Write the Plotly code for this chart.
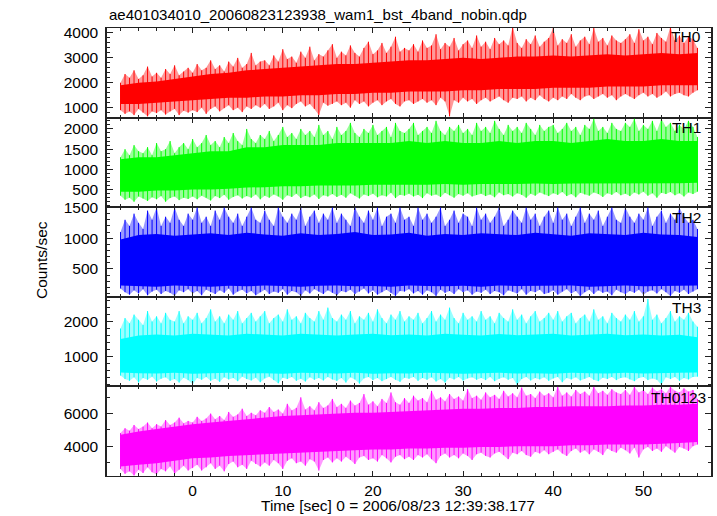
import plotly.graph_objects as go
from plotly.subplots import make_subplots

# ---------------- data ----------------
# sample times: 0.5 s grid for the spike extremes, 2 s grid for the dense core
t_fine = [-8 + 0.5 * i for i in range(129)]
t_coarse = list(range(-8, 57, 2))

th0_ext_hi = [2000, 2350, 2200, 2500, 2150, 2300, 2650, 2250, 2400, 2200, 2550, 2350, 2700, 2300, 2450, 2600,
              2400, 2750, 2500, 2600, 2900, 2550, 2700, 2450, 2850, 2650, 3000, 2600, 2750, 3200, 2700, 2850,
              2900, 2700, 3100, 2850, 3350, 2950, 3050, 2800, 3250, 3000, 3450, 2900, 3150, 3050, 3300, 3550,
              3000, 3250, 3100, 3500, 3200, 3050, 3400, 3650, 3150, 3300, 3600, 3200, 3450, 3850, 3250, 3400,
              3300, 3550, 3250, 3700, 3400, 3500, 3950, 3350, 3600, 3450, 3800, 3300, 3550, 3700, 3400, 3900,
              3450, 3650, 3350, 3800, 3550, 3700, 3500, 4250, 3600, 3400, 3750, 3550, 3900, 3450, 3650, 3800,
              4200, 3500, 3750, 3600, 3950, 3450, 3700, 3850, 3550, 4200, 3650, 3800, 3500, 3900, 3700, 3600,
              3750, 3950, 3600, 4150, 3700, 3850, 3550, 4000, 3800, 3650, 4250, 3700, 3900, 3600, 3850, 3750,
              3400]
th0_ext_lo = [900, 750, 850, 700, 950, 800, 650, 850, 780, 900, 720, 850, 950, 700, 880, 800,
              900, 820, 1000, 750, 950, 1050, 850, 980, 1100, 900, 1000, 820, 1050, 950, 1100, 1000,
              1150, 950, 1050, 1200, 900, 1100, 980, 1150, 1250, 1050, 1150, 950, 700, 1200, 1080, 1150,
              1250, 1100, 1200, 1000, 1300, 1150, 1250, 1050, 1200, 1300, 1100, 1250, 1350, 1150, 1050, 1250,
              1300, 1150, 1250, 1350, 1200, 1300, 1100, 1400, 1250, 650, 1300, 1200, 1400, 1250, 1350, 1150,
              1300, 1400, 1250, 1350, 1450, 1300, 1200, 1400, 1350, 1450, 1250, 1400, 1300, 1500, 1350, 1250,
              1400, 1300, 1450, 1350, 1550, 1400, 1300, 1450, 1500, 1350, 1450, 1550, 1400, 1500, 1300, 1450,
              1550, 1450, 1350, 1500, 1600, 1450, 1550, 1400, 1500, 1650, 1450, 1550, 1600, 1500, 1450, 1600,
              1700]
th0_core_hi = [1900, 2000, 2050, 2150, 2250, 2350, 2400, 2500, 2550, 2600, 2650, 2700, 2750, 2750, 2800, 2850,
               2900, 2900, 2950, 3000, 2950, 3000, 3050, 3050, 3100, 3050, 3100, 3150, 3100, 3150, 3200, 3150, 3200]
th0_core_lo = [1150, 1150, 1200, 1250, 1300, 1350, 1400, 1400, 1450, 1450, 1500, 1500, 1550, 1550, 1600, 1600,
               1650, 1650, 1650, 1700, 1700, 1750, 1750, 1750, 1800, 1800, 1800, 1850, 1850, 1850, 1900, 1900, 1900]

th1_ext_hi = [1300, 1500, 1350, 1600, 1450, 1400, 1550, 1350, 1650, 1450, 1500, 1700, 1400, 1550, 1650, 1500,
              1750, 1550, 1650, 1850, 1600, 1700, 1550, 1800, 1650, 1900, 1700, 1600, 2000, 1750, 1650, 1850,
              1750, 1950, 1700, 1850, 2050, 1800, 1900, 1750, 2000, 1850, 1950, 1800, 2100, 1850, 1950, 1750,
              2050, 1850, 1950, 2150, 1900, 1800, 2000, 1900, 2100, 1850, 1950, 2050, 1800, 2150, 1950, 1900,
              2000, 2150, 1850, 1950, 2050, 1900, 2200, 1950, 1850, 2050, 1950, 2100, 1900, 2000, 1850, 2150,
              1950, 2050, 1900, 2200, 2000, 1850, 2100, 1950, 2050, 1900, 2150, 2000, 1850, 2100, 1950, 2050,
              2100, 1900, 2000, 2150, 1950, 2050, 1850, 2100, 2000, 2250, 1950, 2050, 1900, 2150, 2000, 1950,
              2150, 2050, 2250, 1950, 2100, 2000, 2200, 1950, 2250, 2050, 2150, 1950, 2100, 2000, 2200, 2050,
              1800]
th1_ext_lo = [350, 250, 300, 200, 330, 280, 220, 310, 260, 340, 200, 290, 330, 240, 300, 270,
              330, 260, 350, 300, 230, 340, 290, 370, 250, 320, 360, 280, 340, 300, 380, 260,
              350, 300, 380, 330, 250, 360, 320, 400, 290, 350, 310, 380, 270, 360, 330, 390,
              320, 370, 300, 410, 350, 280, 380, 340, 400, 310, 360, 330, 420, 290, 370, 350,
              400, 330, 370, 290, 410, 350, 380, 320, 420, 360, 300, 390, 350, 410, 330, 370,
              400, 340, 380, 310, 430, 360, 390, 330, 410, 370, 300, 400, 350, 430, 380, 340,
              410, 370, 440, 340, 390, 310, 420, 380, 350, 430, 390, 320, 410, 370, 440, 360,
              400, 340, 430, 380, 450, 350, 410, 300, 420, 390, 440, 360, 410, 330, 430, 390,
              450]
th1_core_hi = [1250, 1300, 1300, 1350, 1400, 1450, 1450, 1550, 1550, 1600, 1600, 1600, 1650, 1650, 1650, 1650,
               1700, 1650, 1700, 1650, 1650, 1700, 1650, 1700, 1700, 1650, 1700, 1750, 1700, 1700, 1750, 1700, 1700]
th1_core_lo = [450, 450, 480, 480, 500, 500, 520, 550, 560, 580, 580, 600, 600, 600, 620, 620,
               620, 620, 640, 620, 640, 640, 640, 650, 640, 650, 660, 650, 660, 650, 660, 660, 670]

th2_ext_hi = [1100, 1300, 1200, 1400, 1250, 1150, 1450, 1300, 1500, 1200, 1350, 1250, 1500, 1300, 1200, 1400,
              1300, 1500, 1250, 1350, 1200, 1450, 1300, 1500, 1350, 1250, 1400, 1200, 1350, 1500, 1300, 1250,
              1450, 1300, 1200, 1500, 1350, 1250, 1400, 1300, 1500, 1200, 1350, 1450, 1250, 1400, 1300, 1500,
              1250, 1400, 1300, 1200, 1500, 1350, 1250, 1450, 1300, 1500, 1200, 1350, 1400, 1250, 1500, 1300,
              1350, 1200, 1500, 1300, 1400, 1250, 1350, 1500, 1200, 1300, 1450, 1250, 1400, 1350, 1200, 1500,
              1300, 1400, 1250, 1350, 1500, 1200, 1300, 1450, 1350, 1250, 1500, 1300, 1400, 1200, 1350, 1450,
              1250, 1500, 1300, 1400, 1200, 1350, 1500, 1250, 1400, 1300, 1450, 1200, 1350, 1500, 1300, 1250,
              1500, 1350, 1250, 1400, 1300, 1500, 1200, 1350, 1450, 1250, 1400, 1300, 1500, 1350, 1250, 1300,
              1150]
th2_ext_lo = [180, 120, 80, 150, 100, 170, 70, 130, 160, 90, 140, 110, 60, 150, 120, 170,
              100, 140, 70, 160, 120, 90, 150, 110, 180, 80, 130, 160, 100, 140, 70, 120,
              160, 90, 130, 110, 170, 80, 140, 120, 60, 150, 100, 170, 130, 90, 150, 110,
              70, 140, 120, 160, 90, 130, 180, 100, 150, 80, 120, 160, 110, 60, 140, 130,
              170, 100, 140, 80, 150, 120, 60, 160, 110, 140, 90, 170, 120, 150, 80, 130,
              110, 160, 90, 140, 120, 70, 150, 130, 100, 170, 80, 140, 120, 160, 90, 110,
              150, 80, 130, 170, 100, 140, 60, 120, 160, 90, 150, 110, 130, 70, 160, 120,
              90, 140, 110, 160, 80, 130, 150, 100, 170, 120, 60, 140, 110, 160, 90, 130,
              170]
th2_core_hi = [980, 1050, 1070, 1040, 1060, 1080, 1050, 1090, 1060, 1040, 1080, 1050, 1070, 1100, 1050, 1060,
               1090, 1040, 1070, 1050, 1080, 1060, 1050, 1090, 1060, 1040, 1080, 1070, 1050, 1090, 1060, 1050, 1020]
th2_core_lo = [230, 220, 210, 230, 220, 210, 225, 215, 230, 220, 210, 225, 230, 215, 220, 210,
               230, 220, 215, 225, 210, 230, 220, 215, 225, 230, 210, 220, 230, 215, 220, 225, 230]

th3_ext_hi = [1800, 2100, 1950, 2200, 2050, 1900, 2300, 2000, 2150, 1950, 2250, 2050, 2000, 2300, 1950, 2150,
              2050, 2250, 1950, 2100, 2350, 2000, 2150, 1950, 2200, 2050, 2300, 1950, 2100, 2250, 2000, 2150,
              2300, 1950, 2100, 2200, 2000, 2350, 2050, 2150, 1950, 2250, 2100, 2000, 2300, 2050, 2400, 2100,
              2000, 2200, 2050, 2300, 1950, 2150, 2050, 2250, 2000, 2350, 2100, 1950, 2200, 2050, 2300, 2000,
              2150, 2050, 2250, 1950, 2100, 2300, 2000, 2200, 2050, 2400, 2100, 1950, 2250, 2050, 2150, 2000,
              2300, 2050, 2150, 1950, 2250, 2100, 2000, 2350, 2050, 2200, 1950, 2150, 2300, 2000, 2100, 2250,
              2050, 2300, 2000, 2150, 2250, 1950, 2100, 2200, 2000, 2350, 2050, 2150, 1950, 2250, 2100, 2000,
              2200, 2050, 2300, 2000, 2150, 2650, 2050, 2200, 1950, 2100, 2300, 2000, 2150, 2050, 2250, 2000,
              1850]
th3_ext_lo = [450, 350, 300, 400, 250, 380, 330, 420, 280, 360, 400, 300, 350, 250, 390, 320,
              200, 380, 330, 410, 300, 360, 270, 400, 340, 380, 290, 420, 350, 310, 390, 260,
              370, 420, 320, 230, 390, 350, 410, 300, 360, 280, 400, 330, 380, 310, 410, 340,
              300, 380, 250, 400, 340, 220, 370, 410, 320, 380, 290, 350, 410, 330, 270, 390,
              360, 410, 300, 380, 330, 400, 280, 350, 250, 390, 340, 410, 310, 370, 400, 330,
              380, 320, 410, 290, 360, 400, 330, 380, 180, 350, 410, 310, 380, 340, 400, 300,
              370, 410, 260, 380, 340, 400, 310, 360, 410, 330, 290, 390, 350, 410, 320, 380,
              400, 340, 290, 380, 410, 320, 370, 330, 180, 400, 350, 410, 300, 380, 340, 410,
              420]
th3_core_hi = [1500, 1600, 1630, 1600, 1650, 1620, 1600, 1650, 1630, 1600, 1650, 1620, 1600, 1630, 1650, 1610,
               1630, 1600, 1650, 1620, 1600, 1640, 1610, 1630, 1650, 1600, 1620, 1650, 1610, 1630, 1600, 1620, 1550]
th3_core_lo = [540, 520, 510, 530, 500, 520, 530, 510, 520, 500, 530, 520, 510, 530, 500, 520,
               510, 530, 520, 500, 520, 530, 510, 520, 500, 530, 520, 510, 530, 510, 520, 530, 540]

th4_ext_hi = [4800, 5100, 4950, 5300, 5050, 5200, 5450, 5100, 5350, 5200, 5600, 5300, 5450, 5750, 5400, 5550,
              5450, 5800, 5550, 5700, 6000, 5650, 5850, 5600, 6100, 5800, 5950, 6300, 5850, 6050, 5900, 6200,
              6050, 6400, 6100, 6250, 6000, 6600, 6200, 6350, 7000, 6250, 6450, 6200, 6700, 6350, 6500, 6900,
              6400, 6600, 6350, 6800, 6500, 6650, 7200, 6550, 6750, 6450, 6900, 6650, 7300, 6700, 6550, 6950,
              6650, 7100, 6800, 6950, 6700, 7400, 6850, 7000, 6750, 7200, 6900, 7050, 6800, 7500, 6950, 7100,
              6850, 7300, 7000, 7150, 6900, 7400, 7050, 7250, 7000, 7600, 7100, 7200, 6950, 7350, 7100, 7250,
              7000, 7650, 7100, 7300, 7050, 7450, 7200, 7350, 7100, 7650, 7250, 7400, 7150, 7500, 7300, 7200,
              7450, 7150, 7650, 7300, 7450, 7200, 7600, 7350, 7500, 7250, 7650, 7400, 7300, 7550, 7350, 7450,
              6900]
th4_ext_lo = [2600, 2300, 2450, 2200, 2550, 2350, 2700, 2400, 2250, 2600, 2450, 2750, 2300, 2550, 2800, 2500,
              2650, 2850, 2500, 2700, 2950, 2600, 2800, 2450, 2900, 3050, 2700, 2850, 2600, 3100, 2900, 2750,
              3000, 2800, 3150, 2950, 2600, 3100, 3250, 2950, 3050, 2800, 3200, 3050, 2500, 3150, 3300, 3000,
              3250, 3050, 3350, 3150, 2900, 3300, 3400, 3150, 3250, 3050, 3450, 3250, 3000, 3350, 3450, 3200,
              3350, 3150, 3450, 3300, 3500, 3200, 2950, 3400, 3550, 3300, 3450, 3250, 3550, 3400, 3150, 3500,
              3600, 3400, 3300, 3550, 3650, 3450, 3200, 3600, 3500, 3700, 3450, 3350, 3650, 3550, 3750, 3500,
              3650, 3800, 3550, 3400, 3700, 3850, 3600, 3750, 3500, 3800, 3650, 3450, 3850, 3700, 3600, 3900,
              3750, 3550, 3900, 3300, 3800, 3950, 3700, 3850, 3650, 4000, 3800, 3600, 3950, 3850, 3700, 4000,
              4100]
th4_core_hi = [4700, 4900, 5050, 5200, 5350, 5450, 5550, 5650, 5750, 5850, 5900, 5950, 6000, 6050, 6050, 6100,
               6150, 6200, 6250, 6300, 6300, 6350, 6350, 6400, 6400, 6450, 6450, 6450, 6500, 6500, 6550, 6550, 6600]
th4_core_lo = [2750, 2850, 2950, 3100, 3250, 3300, 3400, 3450, 3500, 3550, 3600, 3650, 3700, 3750, 3800, 3800,
               3850, 3850, 3900, 3900, 3950, 3950, 4000, 4000, 4000, 4050, 4050, 4100, 4100, 4100, 4150, 4200, 4250]

band_names = ["TH0", "TH1", "TH2", "TH3", "TH0123"]
x_ticks = [0, 10, 20, 30, 40, 50]

# ---------------- styling ----------------
series = [
    dict(ehi=th0_ext_hi, elo=th0_ext_lo, chi=th0_core_hi, clo=th0_core_lo, rgb=(255, 0, 0),
         rng=[600, 4200], dt=1000, mdt=200, lx=703, ly=37),
    dict(ehi=th1_ext_hi, elo=th1_ext_lo, chi=th1_core_hi, clo=th1_core_lo, rgb=(0, 255, 0),
         rng=[65, 2280], dt=500, mdt=100, lx=703, ly=127),
    dict(ehi=th2_ext_hi, elo=th2_ext_lo, chi=th2_core_hi, clo=th2_core_lo, rgb=(0, 0, 255),
         rng=[45, 1505], dt=500, mdt=100, lx=703, ly=217),
    dict(ehi=th3_ext_hi, elo=th3_ext_lo, chi=th3_core_hi, clo=th3_core_lo, rgb=(0, 255, 255),
         rng=[140, 2710], dt=1000, mdt=200, lx=703, ly=307),
    dict(ehi=th4_ext_hi, elo=th4_ext_lo, chi=th4_core_hi, clo=th4_core_lo, rgb=(255, 0, 255),
         rng=[2165, 7670], dt=2000, mdt=1000, lx=708, ly=397),
]

FONT = "Liberation Sans, Arial, sans-serif"
FS = 15.5
AX = "#222222"
L, R, T, B = 107, 6, 28, 40
W, H = 717, 516
PW, PH = W - L - R, H - T - B

fig = make_subplots(rows=5, cols=1, shared_xaxes=True, vertical_spacing=0)

for i, s in enumerate(series):
    row = i + 1
    r, g, b = s["rgb"]
    solid = f"rgb({r},{g},{b})"
    light = f"rgba({r},{g},{b},0.4)"
    # pale region reached by sparse spikes
    fig.add_trace(go.Scatter(x=t_fine + t_fine[::-1], y=s["ehi"] + s["elo"][::-1], fill="toself",
                             fillcolor=light, line=dict(width=0), mode="lines", hoverinfo="skip",
                             showlegend=False), row=row, col=1)
    # dense, saturated core
    fig.add_trace(go.Scatter(x=t_coarse + t_coarse[::-1], y=s["chi"] + s["clo"][::-1], fill="toself",
                             fillcolor=solid, line=dict(width=0), mode="lines", hoverinfo="skip",
                             showlegend=False), row=row, col=1)
    # spikes
    nx, ny = [], []
    for t, lo, hi in zip(t_fine, s["elo"], s["ehi"]):
        nx += [t, t, None]
        ny += [lo, hi, None]
    fig.add_trace(go.Scatter(x=nx, y=ny, mode="lines", line=dict(color=solid, width=1),
                             hoverinfo="skip", showlegend=False), row=row, col=1)

    fig.update_yaxes(row=row, col=1, range=s["rng"], dtick=s["dt"], tick0=0, automargin=False,
                     ticks="inside", ticklen=6, tickwidth=1.3, tickcolor=AX,
                     minor=dict(dtick=s["mdt"], tick0=0, ticks="inside", ticklen=3, tickwidth=1.1, tickcolor=AX),
                     showline=True, linecolor=AX, linewidth=1.5, mirror="ticks",
                     showgrid=False, zeroline=False, ticklabelstandoff=4,
                     tickfont=dict(family=FONT, size=FS, color="black"))
    fig.update_xaxes(row=row, col=1, range=[-9.5, 57.5], tickvals=x_ticks, automargin=False,
                     ticks="inside", ticklen=5, tickwidth=1.3, tickcolor=AX,
                     minor=dict(dtick=2, tick0=0, ticks="inside", ticklen=3, tickwidth=1.1, tickcolor=AX),
                     showline=True, linecolor=AX, linewidth=1, mirror="ticks",
                     showgrid=False, zeroline=False, showticklabels=(row == 5),
                     tickfont=dict(family=FONT, size=FS, color="black"))
    fig.add_annotation(text=band_names[i], xref="paper", yref="paper",
                       x=(s["lx"] - L) / PW, y=(H - B - s["ly"]) / PH,
                       xanchor="right", yanchor="middle", showarrow=False,
                       font=dict(family=FONT, size=FS, color="black"))

fig.add_annotation(text="ae401034010_20060823123938_wam1_bst_4band_nobin.qdp", xref="paper", yref="paper",
                   x=0, y=(H - B - 15) / PH, xanchor="left", yanchor="middle", showarrow=False,
                   font=dict(family=FONT, size=15, color="black"))
fig.add_annotation(text="Time [sec] 0 = 2006/08/23 12:39:38.177", xref="paper", yref="paper",
                   x=(397.5 - L) / PW, y=(H - B - 505) / PH, xanchor="center", yanchor="middle",
                   showarrow=False, font=dict(family=FONT, size=FS, color="black"))
fig.add_annotation(text="Counts/sec", xref="paper", yref="paper", textangle=-90,
                   x=(41 - L) / PW, y=(H - B - 260) / PH, xanchor="center", yanchor="middle",
                   showarrow=False, font=dict(family=FONT, size=FS, color="black"))

fig.update_layout(width=W, height=H, margin=dict(l=L, r=R, t=T, b=B, pad=0, autoexpand=False),
                  paper_bgcolor="white", plot_bgcolor="white", showlegend=False,
                  font=dict(family=FONT, size=FS, color="black"))

fig.write_html("out.html", config={"displayModeBar": False},
               post_script="document.body.style.margin='0';document.body.style.overflow='hidden';")
